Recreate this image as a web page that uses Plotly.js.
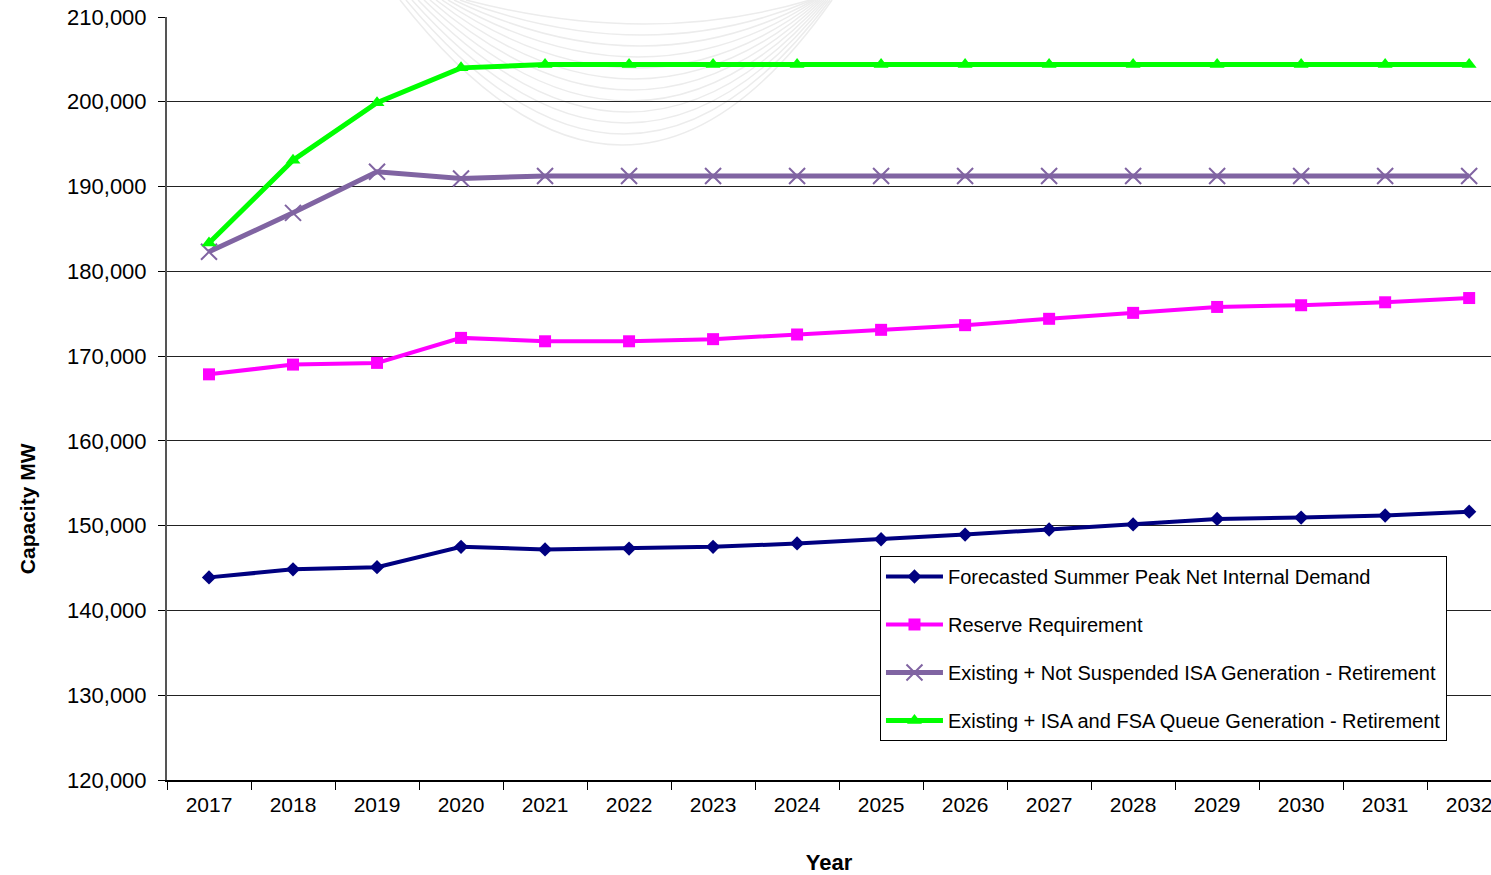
<!DOCTYPE html>
<html>
<head>
<meta charset="utf-8">
<script src="https://cdn.plot.ly/plotly-3.0.1.min.js"></script>
<style>html,body{margin:0;padding:0;background:#fff}#chart{width:1491px;height:875px}</style>
</head>
<body>
<div id="chart"></div>
<script>
const years = ["2017","2018","2019","2020","2021","2022","2023","2024","2025","2026","2027","2028","2029","2030","2031","2032"];
const demand = [143900,144850,145100,147500,147200,147300,147500,147900,148400,148950,149550,150150,150800,150950,151200,151650];
const reserve = [167850,169000,169200,172150,171750,171750,172000,172550,173100,173650,174400,175100,175800,176000,176350,176850];
const notSuspended = [182300,186900,191750,190950,191250,191250,191250,191250,191250,191250,191250,191250,191250,191250,191250,191250];
const queueGen = [183350,193100,199900,204000,204400,204400,204400,204400,204400,204400,204400,204400,204400,204400,204400,204400];
const seriesNames = [
  "Forecasted Summer Peak Net Internal Demand",
  "Reserve Requirement",
  "Existing + Not Suspended ISA Generation - Retirement",
  "Existing + ISA and FSA Queue Generation - Retirement"
];
const yTicks = [120000,130000,140000,150000,160000,170000,180000,190000,200000,210000];

const font = "Liberation Sans, Arial, sans-serif";

// faint background watermark (decoration only), in page pixels converted to paper coords
const W = 1491, H = 875, ML = 167, MT = 17, MB = 95;
const PW = W - ML, PH = H - MT - MB;
const px = v => ((v - ML) / PW).toFixed(4);
const py = v => ((H - MB - v) / PH).toFixed(4);
const shapes = [];
for (let i = 0; i < 12; i++) {
  const depth = 145 - i * 11;
  const x0 = 400 + i * 6, x1 = 832 - i * 2, cx = 628 + i * 2;
  shapes.push({
    type: "path", xref: "paper", yref: "paper", layer: "below",
    path: `M${px(x0)},${py(0)} Q${px(cx)},${py(2 * depth)} ${px(x1)},${py(0)}`,
    line: {color: "#ececec", width: 1.5}
  });
}

const traces = [
  {x: years, y: demand, name: seriesNames[0], legendgroup: "a", mode: "lines+markers",
   line: {color: "#000080", width: 4}, marker: {symbol: "diamond", size: 11, color: "#000080"}},
  {x: years, y: reserve, name: seriesNames[1], legendgroup: "b", mode: "lines+markers",
   line: {color: "#FF00FF", width: 4}, marker: {symbol: "square", size: 12, color: "#FF00FF"}},
  {x: years, y: notSuspended, name: seriesNames[2], legendgroup: "c", mode: "lines+markers",
   line: {color: "#8064A2", width: 5}, marker: {symbol: "x-thin-open", size: 16, color: "#8064A2", line: {color: "#8064A2", width: 2}}},
  {x: years, y: queueGen, name: seriesNames[3], legendgroup: "d", mode: "lines+markers",
   line: {color: "#00FF00", width: 5}, marker: {symbol: "triangle-up", size: 13, color: "#00FF00"}}
];

const layout = {
  width: W, height: H,
  margin: {l: ML, r: 0, t: MT, b: MB},
  paper_bgcolor: "#ffffff", plot_bgcolor: "rgba(0,0,0,0)",
  font: {family: font, size: 20, color: "#000"},
  showlegend: true,
  legend: {
    x: 0.5385, y: 0.2936, xanchor: "left", yanchor: "top",
    bgcolor: "#ffffff", bordercolor: "#000", borderwidth: 1,
    font: {family: font, size: 20, color: "#000"},
    tracegroupgap: 19, itemwidth: 57
  },
  xaxis: {
    type: "category", range: [-0.5, 15.26],
    showline: true, linecolor: "#000", linewidth: 1.5,
    ticks: "outside", ticklen: 8, tickcolor: "#000", tickwidth: 1, tickson: "boundaries",
    showgrid: false, zeroline: false,
    tickfont: {family: font, size: 21, color: "#000"},
    ticklabelstandoff: 5,
    title: {text: "<b>Year</b>", font: {family: font, size: 22, color: "#000"}, standoff: 40}
  },
  yaxis: {
    range: [120000, 210000], tickvals: yTicks,
    tickformat: ",d",
    showline: true, linecolor: "#555", linewidth: 2,
    ticks: "outside", ticklen: 7, tickcolor: "#000", tickwidth: 1,
    showgrid: true, gridcolor: "#222", gridwidth: 1, zeroline: false,
    tickfont: {family: font, size: 22, color: "#000"},
    ticklabelstandoff: 7
  },
  shapes: shapes,
  annotations: [{
    xref: "paper", yref: "paper", x: -0.1057, y: 0.355, xanchor: "center", yanchor: "middle",
    text: "<b>Capacity MW</b>", textangle: -90, showarrow: false,
    font: {family: font, size: 21, color: "#000"}
  }]
};

Plotly.newPlot("chart", traces, layout, {staticPlot: true, displayModeBar: false});
</script>
</body>
</html>
